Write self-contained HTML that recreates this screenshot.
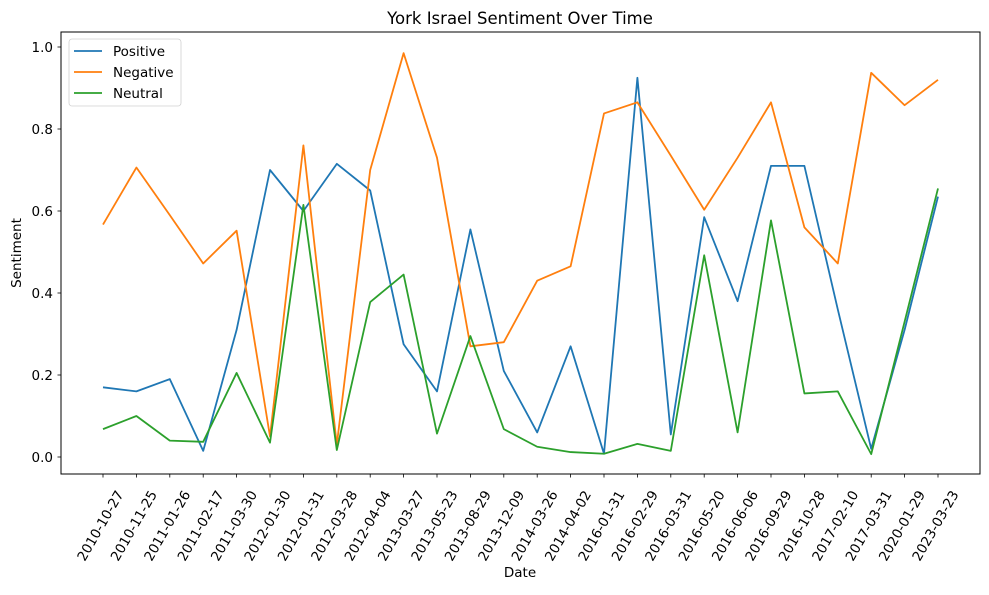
<!DOCTYPE html>
<html><head><meta charset="utf-8"><style>
body{margin:0;background:#fff}
svg{font-family:"DejaVu Sans","Liberation Sans",sans-serif}
</style></head><body>
<svg id="chart" width="989" height="590" viewBox="0 0 989 590">
<rect x="0" y="0" width="989" height="590" fill="#fff"/>
<text x="520" y="24" text-anchor="middle" font-size="16.5" fill="#000">York Israel Sentiment Over Time</text>
<g id="series"></g>
<rect x="61" y="32" width="919" height="442" fill="none" stroke="#000" stroke-width="1"/>
<g id="axes"></g>
<text x="520" y="577" text-anchor="middle" font-size="13.5">Date</text>
<text transform="translate(21,253) rotate(-90)" text-anchor="middle" font-size="13.5">Sentiment</text>
<g>
<rect x="69" y="39" width="112" height="67" rx="3" fill="#fff" stroke="#ccc" stroke-width="0.8" opacity="0.9"/>
<g><line x1="74" y1="51" x2="102" y2="51" stroke="#1f77b4" stroke-width="1.8"/><text x="113" y="56" font-size="13.5">Positive</text></g>
<g><line x1="74" y1="72" x2="102" y2="72" stroke="#ff7f0e" stroke-width="1.8"/><text x="113" y="77" font-size="13.5">Negative</text></g>
<g><line x1="74" y1="93" x2="102" y2="93" stroke="#2ca02c" stroke-width="1.8"/><text x="113" y="98" font-size="13.5">Neutral</text></g>
</g>
</svg>
<script>
const dates=["2010-10-27","2010-11-25","2011-01-26","2011-02-17","2011-03-30","2012-01-30","2012-01-31","2012-03-28","2012-04-04","2013-03-27","2013-05-23","2013-08-29","2013-12-09","2014-03-26","2014-04-02","2016-01-31","2016-02-29","2016-03-31","2016-05-20","2016-06-06","2016-09-29","2016-10-28","2017-02-10","2017-03-31","2020-01-29","2023-03-23"];
const positive=[0.17,0.16,0.19,0.015,0.31,0.70,0.60,0.715,0.65,0.275,0.16,0.555,0.21,0.06,0.27,0.008,0.925,0.055,0.585,0.38,0.71,0.71,0.36,0.02,0.31,0.635];
const negative=[0.567,0.706,0.59,0.472,0.552,0.05,0.76,0.03,0.70,0.985,0.73,0.27,0.28,0.43,0.465,0.838,0.865,0.735,0.603,0.73,0.865,0.56,0.472,0.937,0.858,0.92];
const neutral=[0.068,0.10,0.04,0.037,0.205,0.035,0.615,0.017,0.378,0.445,0.057,0.295,0.068,0.025,0.012,0.008,0.032,0.015,0.492,0.06,0.577,0.155,0.16,0.007,0.33,0.655];
const yTicks=[0,0.2,0.4,0.6,0.8,1.0];
const yTickLabels=["0.0","0.2","0.4","0.6","0.8","1.0"];
const NS="http://www.w3.org/2000/svg";
function xScale(i){return 103+i*(938-103)/(dates.length-1);}
function yScale(v){return 457-v*410;}
const axes=document.getElementById('axes');
function mk(tag,attrs,parent){const e=document.createElementNS(NS,tag);for(const k in attrs)e.setAttribute(k,attrs[k]);parent.appendChild(e);return e;}
yTicks.forEach((t,i)=>{
  const y=yScale(t);
  const g=mk('g',{},axes);
  
  
  mk('line',{x1:57.5,x2:61,y1:y,y2:y,stroke:'#000','stroke-width':0.8},g);
  const tx=mk('text',{x:53,y:y+5,'text-anchor':'end','font-size':13.5},g);
  tx.textContent=yTickLabels[i];
});
dates.forEach((d,i)=>{
  const x=xScale(i);
  const g=mk('g',{},axes);
  
  
  mk('line',{x1:x,x2:x,y1:474,y2:477.5,stroke:'#000','stroke-width':0.8},g);
  const tx=mk('text',{transform:`translate(${x+21},${494}) rotate(-60)`,'text-anchor':'end','font-size':13.5},g);
  tx.textContent=d;
});
const series=document.getElementById('series');
[[positive,'#1f77b4','line-positive'],[negative,'#ff7f0e','line-negative'],[neutral,'#2ca02c','line-neutral']].forEach(([vals,c,n])=>{
  const p=mk('polyline',{points:vals.map((v,i)=>xScale(i)+','+yScale(v)).join(' '),fill:'none',stroke:c,'stroke-width':1.8,'stroke-linejoin':'round'},series);
  
  
});
</script>
</body></html>
